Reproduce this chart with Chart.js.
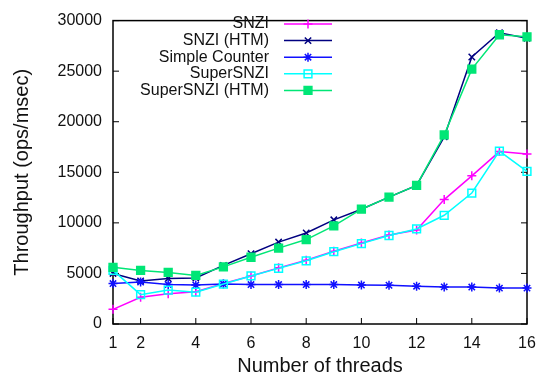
<!DOCTYPE html>
<html>
<head>
<meta charset="utf-8">
<script src="https://cdn.jsdelivr.net/npm/chart.js@4"></script>
<style>
html, body { margin: 0; padding: 0; background: #fff; }
</style>
</head>
<body>
<canvas id="chart" width="548" height="382"></canvas>
<script>
"use strict";

var threads = [1, 2, 3, 4, 5, 6, 7, 8, 9, 10, 11, 12, 13, 14, 15, 16];
var xTicks = [1, 2, 4, 6, 8, 10, 12, 14, 16];

var snzi = [1450, 2650, 3000, 3200, 4000, 4750, 5550, 6300, 7200, 8000, 8800, 9300, 12300, 14650, 17050, 16800];
var snziHtm = [5000, 4250, 4500, 4550, 5800, 6950, 8100, 9000, 10300, 11350, 12550, 13700, 18500, 26400, 28800, 28250];
var simpleCounter = [4000, 4150, 3900, 3850, 3950, 3900, 3900, 3900, 3900, 3850, 3830, 3740, 3670, 3650, 3550, 3550];
var superSnzi = [5300, 2900, 3350, 3150, 3950, 4750, 5500, 6250, 7150, 7950, 8750, 9400, 10750, 12950, 17100, 15100];
var superSnziHtm = [5600, 5300, 5100, 4800, 5650, 6600, 7500, 8350, 9700, 11350, 12550, 13700, 18700, 25200, 28600, 28400];

var seriesNames = ['SNZI', 'SNZI (HTM)', 'Simple Counter', 'SuperSNZI', 'SuperSNZI (HTM)'];
var seriesValues = [snzi, snziHtm, simpleCounter, superSnzi, superSnziHtm];
var seriesColors = ['#ff00ff', '#000080', '#1010ff', '#00ffff', '#00e676'];
var seriesPoints = ['cross', 'crossRot', 'star', 'rect', 'rect'];
var seriesFill = ['#ff00ff', '#000080', '#1010ff', 'rgba(255,255,255,0)', '#00e676'];
var seriesRadius = [4.5, 4.5, 4.5, 5.5, 5.5];

Chart.defaults.font.family = '"Liberation Sans", Arial, sans-serif';
Chart.defaults.color = '#111';

function BuildDatasets() {
    var datasets = [];
    for (var i = 0; i < seriesNames.length; i++) {
        var pts = [];
        for (var j = 0; j < threads.length; j++) {
            pts.push({ x: threads[j], y: seriesValues[i][j] });
        }
        datasets.push({
            label: seriesNames[i],
            data: pts,
            borderColor: seriesColors[i],
            backgroundColor: seriesFill[i],
            borderWidth: 1.5,
            pointStyle: seriesPoints[i],
            pointRadius: seriesRadius[i],
            pointBorderWidth: 1.5,
            pointBorderColor: seriesColors[i],
            pointBackgroundColor: seriesFill[i],
            tension: 0,
            clip: false,
            order: seriesNames.length - i
        });
    }
    return datasets;
}

// box round the plot with ticks pointing inwards, like gnuplot
var framePlugin = {
    id: 'frame',
    beforeDatasetsDraw: function (chart) {
        var ctx = chart.ctx;
        var a = chart.chartArea;
        var xs = chart.scales.x;
        var ys = chart.scales.y;
        var len = 6;
        ctx.save();
        ctx.strokeStyle = '#000';
        ctx.lineWidth = 1.5;
        ctx.strokeRect(a.left, a.top, a.right - a.left, a.bottom - a.top);
        ctx.lineWidth = 1;
        ctx.beginPath();
        xTicks.forEach(function (v) {
            var px = xs.getPixelForValue(v);
            ctx.moveTo(px, a.bottom);
            ctx.lineTo(px, a.bottom - len);
        });
        ys.ticks.forEach(function (t) {
            var py = ys.getPixelForValue(t.value);
            ctx.moveTo(a.left, py);
            ctx.lineTo(a.left + len, py);
            ctx.moveTo(a.right, py);
            ctx.lineTo(a.right - len, py);
        });
        ctx.stroke();
        ctx.restore();
    }
};

// key in the top left corner: text right aligned, then line sample with marker
var keyPlugin = {
    id: 'key',
    afterDraw: function (chart) {
        var ctx = chart.ctx;
        var textRight = 269;
        var lineStart = 284;
        var lineEnd = 332;
        var top = 24;
        var step = 16.6;
        ctx.save();
        ctx.font = '16px "Liberation Sans", Arial, sans-serif';
        ctx.textAlign = 'right';
        ctx.textBaseline = 'middle';
        chart.data.datasets.forEach(function (ds, i) {
            var y = top + i * step;
            ctx.fillStyle = '#111';
            ctx.fillText(ds.label, textRight, y);
            ctx.strokeStyle = ds.borderColor;
            ctx.lineWidth = ds.borderWidth;
            ctx.beginPath();
            ctx.moveTo(lineStart, y);
            ctx.lineTo(lineEnd, y);
            ctx.stroke();
            ctx.fillStyle = ds.pointBackgroundColor;
            Chart.helpers.drawPoint(ctx, {
                pointStyle: ds.pointStyle,
                radius: ds.pointRadius,
                rotation: 0,
                borderWidth: ds.pointBorderWidth
            }, (lineStart + lineEnd) / 2, y);
        });
        ctx.restore();
    }
};

const context = document.getElementById('chart');
const myChart = new Chart(context, {
    type: 'line',
    data: {
        datasets: BuildDatasets()
    },
    options: {
        responsive: false,
        animation: false,
        devicePixelRatio: 1,
        layout: {
            padding: { top: 11, right: 21, left: 0, bottom: 0 }
        },
        plugins: {
            legend: { display: false },
            tooltip: { enabled: false }
        },
        scales: {
            x: {
                type: 'linear',
                position: 'bottom',
                min: 1,
                max: 16,
                grid: { display: false, drawTicks: false },
                border: { display: false },
                ticks: { padding: 10, font: { size: 16 }, color: '#111' },
                afterBuildTicks: function (scale) {
                    scale.ticks = xTicks.map(function (v) { return { value: v }; });
                },
                afterFit: function (scale) {
                    scale.height = 58;
                },
                title: {
                    display: true,
                    text: 'Number of threads',
                    font: { size: 20 },
                    color: '#111',
                    padding: { top: 0, bottom: 4 }
                }
            },
            y: {
                min: 0,
                max: 30000,
                grid: { display: false, drawTicks: false },
                border: { display: false },
                ticks: {
                    stepSize: 5000,
                    padding: 11,
                    font: { size: 16 },
                    color: '#111',
                    callback: function (value) { return String(value); }
                },
                afterFit: function (scale) {
                    scale.width = 113;
                },
                title: {
                    display: true,
                    text: 'Throughput (ops/msec)',
                    font: { size: 20 },
                    color: '#111',
                    padding: { top: 10, bottom: 0 }
                }
            }
        }
    },
    plugins: [framePlugin, keyPlugin]
});
</script>
</body>
</html>
